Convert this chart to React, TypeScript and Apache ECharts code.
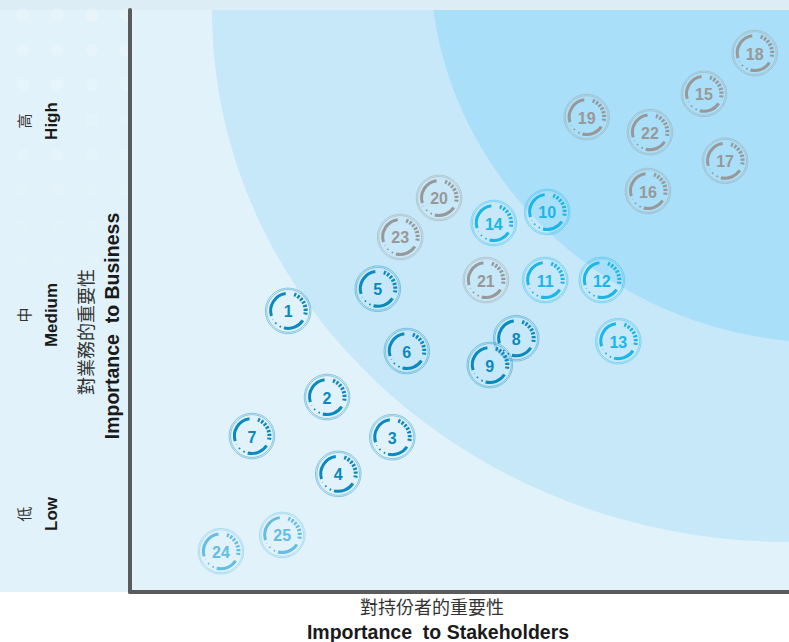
import React, { useEffect, useRef } from "react";
import * as echarts from "echarts";

// Issue numbers and their scores (0-100 scale)
const issueIds = ["1","2","3","4","5","6","7","8","9","10","11","12","13","14","15","16","17","18","19","20","21","22","23","24","25"];
const importanceToStakeholders = [24.0, 29.9, 39.8, 31.6, 37.6, 42.0, 18.5, 58.6, 54.6, 63.3, 63.0, 71.6, 74.1, 55.2, 87.1, 78.6, 90.3, 94.8, 69.3, 46.9, 54.0, 78.9, 41.0, 13.8, 23.1];
const importanceToBusiness = [48.3, 33.5, 26.6, 20.3, 52.1, 41.4, 26.8, 43.6, 39.0, 65.3, 53.6, 53.6, 43.1, 63.4, 85.6, 68.9, 74.1, 92.6, 81.6, 67.7, 53.6, 79.0, 61.0, 7.0, 9.8];
const issueGroups = ["blue","blue","blue","blue","blue","blue","blue","blue","blue","cyan","cyan","cyan","cyan","cyan","grey","grey","grey","grey","grey","grey","grey","grey","grey","light","light"];

const levelLabelsZh = ["高", "中", "低"];
const levelLabelsEn = ["High", "Medium", "Low"];
const yTitleZh = "對業務的重要性";
const yTitleEn = "Importance  to Business";
const xTitleZh = "對持份者的重要性";
const xTitleEn = "Importance  to Stakeholders";

const groupColors: Record<string, string> = {
  blue: "#0a89bf",
  cyan: "#1ab6ea",
  grey: "#989898",
  light: "#63bde4",
};

const EN_FONT = '"Liberation Sans", Arial, Helvetica, sans-serif';
const ZH_FONT = '"Noto Sans CJK TC", "Noto Sans CJK SC", sans-serif';

export default function App() {
  const ref = useRef<HTMLDivElement>(null);

  useEffect(() => {
    if (!ref.current) return;
    const chart = echarts.init(ref.current, undefined, { renderer: "svg" });
    const d = Math.PI / 180;

    const dots: any[] = [];
    const dotCols = [23, 57, 92, 126];
    for (let k = 0; k < 11; k++) {
      for (const cx of dotCols) {
        dots.push({
          type: "circle",
          z: 5,
          silent: true,
          shape: { cx, cy: 15 + 35 * k, r: 6.5 },
          style: { fill: "#ffffff", opacity: 0.22 * (1 - k / 11) },
        });
      }
    }

    const center = { align: "center", verticalAlign: "middle", textAlign: "center", textVerticalAlign: "middle" };
    const levelY = [121, 315, 514];
    const levelTexts: any[] = [];
    levelY.forEach((y, i) => {
      levelTexts.push({
        type: "text", z: 6, x: 23, y, rotation: Math.PI / 2,
        style: { text: levelLabelsZh[i], font: `15px ${ZH_FONT}`, fill: "#333", ...center },
      });
      levelTexts.push({
        type: "text", z: 6, x: 51, y, rotation: Math.PI / 2,
        style: { text: levelLabelsEn[i], font: `bold 17px ${EN_FONT}`, fill: "#1a1a1a", ...center },
      });
    });

    const option: any = {
      animation: false,
      grid: { left: 130, right: 0, top: 10, bottom: 50, containLabel: false },
      xAxis: {
        type: "value", min: 0, max: 100, z: 10,
        axisLine: { show: true, onZero: false, lineStyle: { color: "#5a5b5d", width: 4 } },
        axisTick: { show: false }, axisLabel: { show: false }, splitLine: { show: false },
      },
      yAxis: {
        type: "value", min: 0, max: 100, z: 10,
        axisLine: { show: true, onZero: false, lineStyle: { color: "#5a5b5d", width: 4 } },
        axisTick: { show: false }, axisLabel: { show: false }, splitLine: { show: false },
      },
      graphic: {
        elements: [
          { type: "rect", z: 1, silent: true, shape: { x: 0, y: 0, width: 789, height: 592 }, style: { fill: "#e1f2fa" } },
          { type: "ellipse", z: 2, silent: true, shape: { cx: 789, cy: 10, rx: 577, ry: 532 }, style: { fill: "#c7e8f8" } },
          { type: "ellipse", z: 3, silent: true, shape: { cx: 830, cy: -40, rx: 400, ry: 383 }, style: { fill: "#a9dff8" } },
          { type: "rect", z: 4, silent: true, shape: { x: 0, y: 0, width: 789, height: 10 }, style: { fill: "#dcedf6" } },
          ...dots,
          ...levelTexts,
          { type: "text", z: 6, x: 85, y: 332, rotation: Math.PI / 2,
            style: { text: yTitleZh, font: `18px ${ZH_FONT}`, fill: "#333", ...center } },
          { type: "text", z: 6, x: 112, y: 326, rotation: Math.PI / 2,
            style: { text: yTitleEn, font: `bold 19.5px ${EN_FONT}`, fill: "#1a1a1a", ...center } },
          { type: "text", z: 6, x: 432, y: 606,
            style: { text: xTitleZh, font: `18px ${ZH_FONT}`, fill: "#333", ...center } },
          { type: "text", z: 6, x: 438, y: 632,
            style: { text: xTitleEn, font: `bold 19.5px ${EN_FONT}`, fill: "#1a1a1a", ...center } },
        ],
      },
      series: [
        {
          type: "custom",
          z: 20,
          data: importanceToStakeholders.map((x, i) => [x, importanceToBusiness[i]]),
          renderItem: (params: any, api: any) => {
            const i = params.dataIndex;
            const p = api.coord([api.value(0), api.value(1)]);
            const c = groupColors[issueGroups[i]];
            const R = 17.5;
            return {
              type: "group",
              x: p[0],
              y: p[1],
              children: [
                { type: "circle", shape: { cx: 0, cy: 0, r: 22.8 }, style: { fill: "none", stroke: c, lineWidth: 0.7, opacity: 0.6 } },
                { type: "circle", shape: { cx: 0, cy: 0, r: 21.4 }, style: { fill: "none", stroke: c, lineWidth: 0.7, opacity: 0.6 } },
                { type: "arc", shape: { cx: 0, cy: 0, r: R, startAngle: 163 * d, endAngle: 262 * d, clockwise: true }, style: { fill: "none", stroke: c, lineWidth: 3 } },
                { type: "arc", shape: { cx: 0, cy: 0, r: R, startAngle: 33 * d, endAngle: 104 * d, clockwise: true }, style: { fill: "none", stroke: c, lineWidth: 3 } },
                { type: "arc", shape: { cx: 0, cy: 0, r: R, startAngle: -70 * d, endAngle: 12 * d, clockwise: true }, style: { fill: "none", stroke: c, lineWidth: 4, lineDash: [2.2, 1.6] } },
                { type: "arc", shape: { cx: 0, cy: 0, r: R, startAngle: 114 * d, endAngle: 152 * d, clockwise: true }, style: { fill: "none", stroke: c, lineWidth: 1.8, lineDash: [1.6, 4] } },
                { type: "text", style: { text: issueIds[i], x: 0, y: 1, font: `bold 16px ${EN_FONT}`, fill: c, ...center } },
              ],
            };
          },
        },
      ],
    };

    chart.setOption(option);
    return () => chart.dispose();
  }, []);

  return <div ref={ref} style={{ position: "fixed", left: 0, top: 0, width: 789, height: 642, background: "#ffffff" }} />;
}
